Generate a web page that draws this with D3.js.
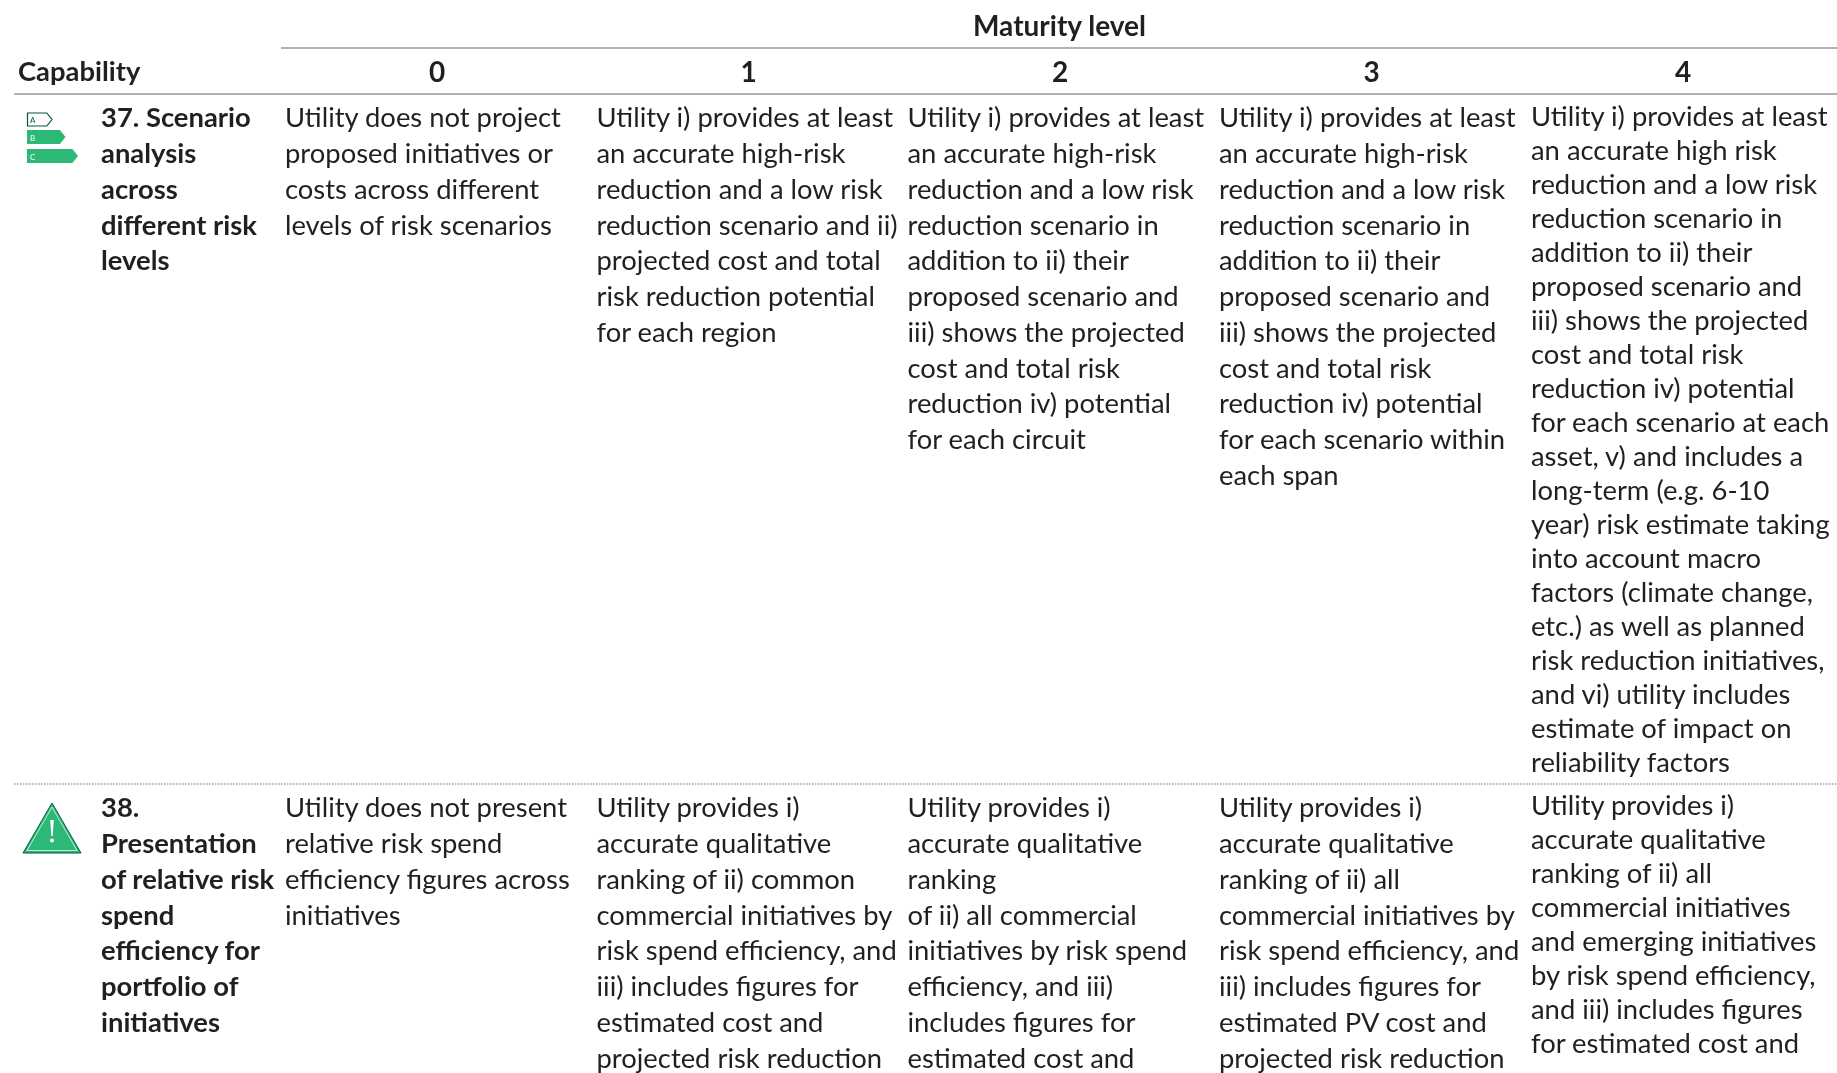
<!DOCTYPE html>
<html><head><meta charset="utf-8">
<script src="https://cdn.jsdelivr.net/npm/d3@7"></script>
<style>html,body{margin:0;padding:0;background:#fff;overflow:hidden}svg{display:block;filter:blur(.35px)}text{font-family:Lato,sans-serif;fill:#231f20}</style>
</head><body><svg id="c" width="1837" height="1073"></svg>
<script>
const spanner = "Maturity level";
const stubHead = "Capability";
const levels = ["0","1","2","3","4"];
const capability37 = ["37. Scenario","analysis","across","different risk","levels"];
const capability38 = ["38.","Presentation","of relative risk","spend","efficiency for","portfolio of","initiatives"];
const row37 = [
 ["Utility does not project","proposed initiatives or","costs across different","levels of risk scenarios"],
 ["Utility i) provides at least","an accurate high-risk","reduction and a low risk","reduction scenario and ii)","projected cost and total","risk reduction potential","for each region"],
 ["Utility i) provides at least","an accurate high-risk","reduction and a low risk","reduction scenario in","addition to ii) their","proposed scenario and","iii) shows the projected","cost and total risk","reduction iv) potential","for each circuit"],
 ["Utility i) provides at least","an accurate high-risk","reduction and a low risk","reduction scenario in","addition to ii) their","proposed scenario and","iii) shows the projected","cost and total risk","reduction iv) potential","for each scenario within","each span"],
 ["Utility i) provides at least","an accurate high risk","reduction and a low risk","reduction scenario in","addition to ii) their","proposed scenario and","iii) shows the projected","cost and total risk","reduction iv) potential","for each scenario at each","asset, v) and includes a","long-term (e.g. 6-10","year) risk estimate taking","into account macro","factors (climate change,","etc.) as well as planned","risk reduction initiatives,","and vi) utility includes","estimate of impact on","reliability factors"]
];
const row38 = [
 ["Utility does not present","relative risk spend","efficiency figures across","initiatives"],
 ["Utility provides i)","accurate qualitative","ranking of ii) common","commercial initiatives by","risk spend efficiency, and","iii) includes figures for","estimated cost and","projected risk reduction"],
 ["Utility provides i)","accurate qualitative","ranking","of ii) all commercial","initiatives by risk spend","efficiency, and iii)","includes figures for","estimated cost and"],
 ["Utility provides i)","accurate qualitative","ranking of ii) all","commercial initiatives by","risk spend efficiency, and","iii) includes figures for","estimated PV cost and","projected risk reduction"],
 ["Utility provides i)","accurate qualitative","ranking of ii) all","commercial initiatives","and emerging initiatives","by risk spend efficiency,","and iii) includes figures","for estimated cost and"]
];
const fs = 26.5, squeeze = 1.034;
const svg = d3.select("#c");
const colCenter = d3.scalePoint().domain(levels).range([437,1683]);
const colLeft = l => colCenter(l) - 152 - (l==="3"?.5:l==="2"?.5:0);
const lineY37 = d3.scaleLinear().domain([0,1]).range([127.5,163.25]);
const lineY37b = d3.scaleLinear().domain([0,1]).range([125.6,159.6]);
const lineY38 = d3.scaleLinear().domain([0,1]).range([817.5,853.25]);
const lineY38b = d3.scaleLinear().domain([0,1]).range([815.4,849.4]);

function block(lines,x,yScale,weight){
  const g = svg.append("g").attr("transform",`translate(${x},0) scale(${squeeze},1)`);
  g.selectAll("text").data(lines).join("text")
   .attr("y",(d,i)=>yScale(i)).attr("font-size",fs).attr("font-weight",weight).text(d=>d);
}
function centered(t,x,y){
  svg.append("text").attr("x",x).attr("y",y).attr("text-anchor","middle")
   .attr("font-size",28).attr("font-weight",700).text(t);
}
function rule(x1,x2,y,dash){
  svg.append("line").attr("x1",x1).attr("x2",x2).attr("y1",y).attr("y2",y)
   .attr("stroke","#999").attr("stroke-width",1.5).attr("stroke-dasharray",dash?"1.5 1.5":null);
}
rule(281,1837,48);rule(14,1837,94);rule(14,1837,784,true);
centered(spanner,1059.5,36);
block([stubHead],18,lineY37.copy().range([81,81]),700);
levels.forEach(l=>centered(l,colCenter(l),82));
block(capability37,101,lineY37,700);
block(capability38,101,lineY38,700);
levels.forEach((l,i)=>{
  block(row37[i],colLeft(l),i==4?lineY37b:lineY37,400);
  block(row38[i],colLeft(l),i==4?lineY38b:lineY38,400);
});
// icons
const green="#2cb976",dark="#00573f";
const tag=(x,y,w,h,fill,stroke)=>svg.append("path")
 .attr("d",d3.line()([[x,y],[x+w-h*.4,y],[x+w,y+h/2],[x+w-h*.4,y+h],[x,y+h]])+"Z")
 .attr("fill",fill).attr("stroke",stroke).attr("stroke-width",1.2);
tag(27.5,113,24.5,13,"#fff",dark);
tag(27,130,38.5,14,green,"none");
tag(27,149,51,14,green,"none");
[["A",30,123,dark],["B",30,141,"#fff"],["C",30,160,"#fff"]].forEach(([t,x,y,c])=>
 svg.append("text").attr("x",x).attr("y",y).attr("font-size",8).style("fill",c).text(t));
svg.append("path").attr("d",d3.line()([[52,803],[81,853],[23,853]])+"Z").attr("fill",green).attr("stroke",dark).attr("stroke-width",1).attr("stroke-linejoin","round");
svg.append("path").attr("d",d3.line()([[52,807],[77,850.5],[27,850.5]])+"Z").attr("fill","none").attr("stroke","#fff").attr("stroke-width",.7);
svg.append("path").attr("d",d3.line()([[50.2,820],[53.8,820],[52.7,836],[51.3,836]])+"Z").attr("fill","#fff");
svg.append("circle").attr("cx",52).attr("cy",840.5).attr("r",2).attr("fill","#fff");
</script></body></html>
